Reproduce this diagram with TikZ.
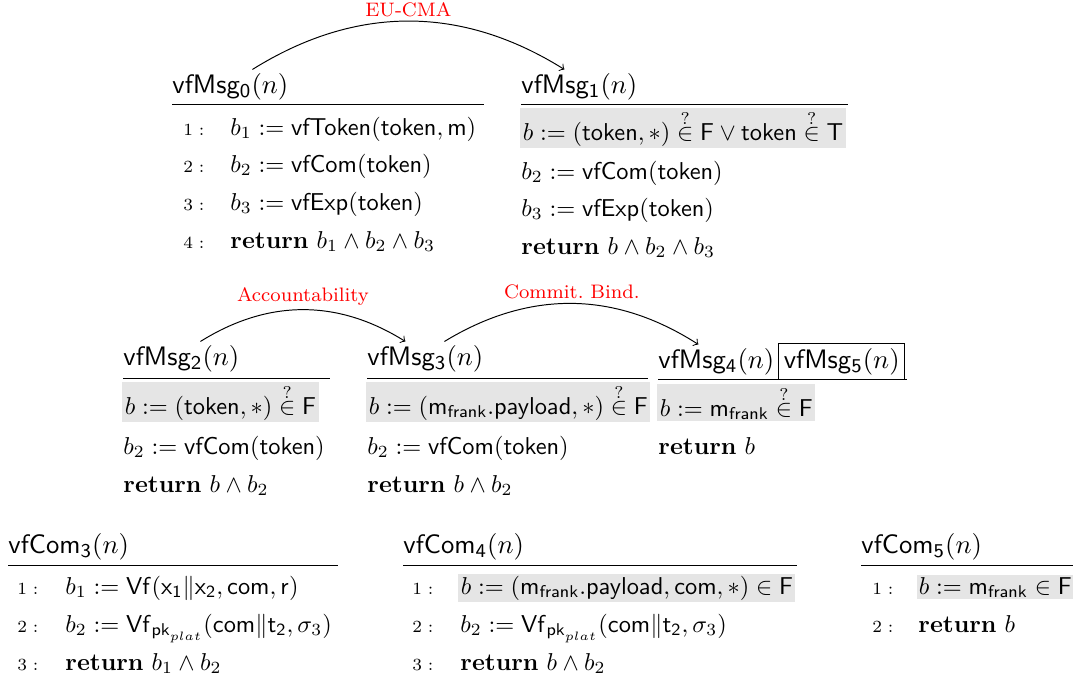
\documentclass[tikz,border=0pt]{standalone}
\usepackage{amsmath,amssymb}
\usetikzlibrary{positioning}
\newcommand{\qin}{\mathrel{\overset{\raisebox{-0.35ex}{$\scriptstyle ?$}}{\in}}}
\begin{document}
\begin{tikzpicture}[
    x=0.41pt, y=-0.41pt,
    ttl/.style={anchor=base west, inner sep=0pt, font=\fontsize{11}{13}\selectfont},
    ln/.style={anchor=base west, inner sep=0pt},
    hl/.style={anchor=base west, fill=gray!20, inner xsep=1pt, inner ysep=0.7pt},
    num/.style={anchor=base west, inner sep=0pt, font=\scriptsize},
    hop/.style={->, bend left=32},
    hoplbl/.style={above, inner sep=1.5pt, text=red, font=\footnotesize}
]
\useasboundingbox (0,0) rectangle (1073,681);
% vfMsg_0
\node[ttl] (t0) at (172,93) {$\mathsf{vfMsg_0}(n)$};
\draw (172,104) -- (484,104);
\node[num] (n01) at (183,135) {$1:$};
\node[ln] (l01) at (230,135) {$b_1 := \mathsf{vfToken}(\mathsf{token},\mathsf{m})$};
\node[num] (n02) at (183,172) {$2:$};
\node[ln] (l02) at (230,172) {$b_2 := \mathsf{vfCom}(\mathsf{token})$};
\node[num] (n03) at (183,210) {$3:$};
\node[ln] (l03) at (230,210) {$b_3 := \mathsf{vfExp}(\mathsf{token})$};
\node[num] (n04) at (183,248) {$4:$};
\node[ln] (l04) at (230,248) {$\mathbf{return}\ b_1 \wedge b_2 \wedge b_3$};
% vfMsg_1
\node[ttl] (t1) at (521,93) {$\mathsf{vfMsg_1}(n)$};
\draw (521,104) -- (848,104);
\node[hl] (l11) at (520,140) {$b := (\mathsf{token},*) \qin \mathsf{F} \vee \mathsf{token} \qin \mathsf{T}$};
\node[ln] (l12) at (521,179) {$b_2 := \mathsf{vfCom}(\mathsf{token})$};
\node[ln] (l13) at (521,216) {$b_3 := \mathsf{vfExp}(\mathsf{token})$};
\node[ln] (l14) at (521,254) {$\mathbf{return}\ b \wedge b_2 \wedge b_3$};
% vfMsg_2
\node[ttl] (t2) at (123,365) {$\mathsf{vfMsg_2}(n)$};
\draw (123,378) -- (330,378);
\node[hl] (l21) at (122,414) {$b := (\mathsf{token},*) \qin \mathsf{F}$};
\node[ln] (l22) at (123,454) {$b_2 := \mathsf{vfCom}(\mathsf{token})$};
\node[ln] (l23) at (123,492) {$\mathbf{return}\ b \wedge b_2$};
% vfMsg_3
\node[ttl] (t3) at (367,365) {$\mathsf{vfMsg_3}(n)$};
\draw (367,378) -- (648,378);
\node[hl] (l31) at (366,414) {$b := (\mathsf{m_{frank}}.\mathsf{payload},*) \qin \mathsf{F}$};
\node[ln] (l32) at (367,454) {$b_2 := \mathsf{vfCom}(\mathsf{token})$};
\node[ln] (l33) at (367,492) {$\mathbf{return}\ b \wedge b_2$};
% vfMsg_4 / vfMsg_5
\node[ttl] (t4) at (658,368) {$\mathsf{vfMsg_4}(n)$};
\node[ttl, draw, inner sep=2pt, base right=1.5pt of t4] (t5) {$\mathsf{vfMsg_5}(n)$};
\draw (658,379) -- (907,379);
\node[hl] (l41) at (657,416) {$b := \mathsf{m_{frank}} \qin \mathsf{F}$};
\node[ln] (l42) at (658,454) {$\mathbf{return}\ b$};
% vfCom_3
\node[ttl] (c3) at (8,553) {$\mathsf{vfCom_3}(n)$};
\draw (8,565) -- (338,565);
\node[num] (n31) at (17,594) {$1:$};
\node[ln] (k31) at (65,594) {$b_1 := \mathsf{Vf}(\mathsf{x_1}\|\mathsf{x_2},\mathsf{com},\mathsf{r})$};
\node[num] (n32) at (17,632) {$2:$};
\node[ln] (k32) at (65,632) {$b_2 := \mathsf{Vf}_{\mathsf{pk}_{plat}}(\mathsf{com}\|\mathsf{t_2},\sigma_3)$};
\node[num] (n33) at (17,670) {$3:$};
\node[ln] (k33) at (65,670) {$\mathbf{return}\ b_1 \wedge b_2$};
% vfCom_4
\node[ttl] (c4) at (403,553) {$\mathsf{vfCom_4}(n)$};
\draw (403,565) -- (797,565);
\node[num] (n41) at (412,594) {$1:$};
\node[hl] (k41) at (458,594) {$b := (\mathsf{m_{frank}}.\mathsf{payload},\mathsf{com},*) \in \mathsf{F}$};
\node[num] (n42) at (412,632) {$2:$};
\node[ln] (k42) at (460,632) {$b_2 := \mathsf{Vf}_{\mathsf{pk}_{plat}}(\mathsf{com}\|\mathsf{t_2},\sigma_3)$};
\node[num] (n43) at (412,670) {$3:$};
\node[ln] (k43) at (460,670) {$\mathbf{return}\ b \wedge b_2$};
% vfCom_5
\node[ttl] (c5) at (861,553) {$\mathsf{vfCom_5}(n)$};
\draw (861,565) -- (1073,565);
\node[num] (n51) at (872,594) {$1:$};
\node[hl] (k51) at (916,594) {$b := \mathsf{m_{frank}} \in \mathsf{F}$};
\node[num] (n52) at (872,632) {$2:$};
\node[ln] (k52) at (918,632) {$\mathbf{return}\ b$};
% hops
\draw[hop] ([shift={(22,-3)}]t0.north) to node[hoplbl] {EU-CMA} ([shift={(-15,-3)}]t1.north);
\draw[hop] ([shift={(19,-3)}]t2.north) to node[hoplbl] {Accountability} ([shift={(-20,-3)}]t3.north);
\draw[hop] ([shift={(19,-3)}]t3.north) to node[hoplbl] {Commit.\ Bind.} ([shift={(-18,-3)}]t4.north);
\end{tikzpicture}
\end{document}
